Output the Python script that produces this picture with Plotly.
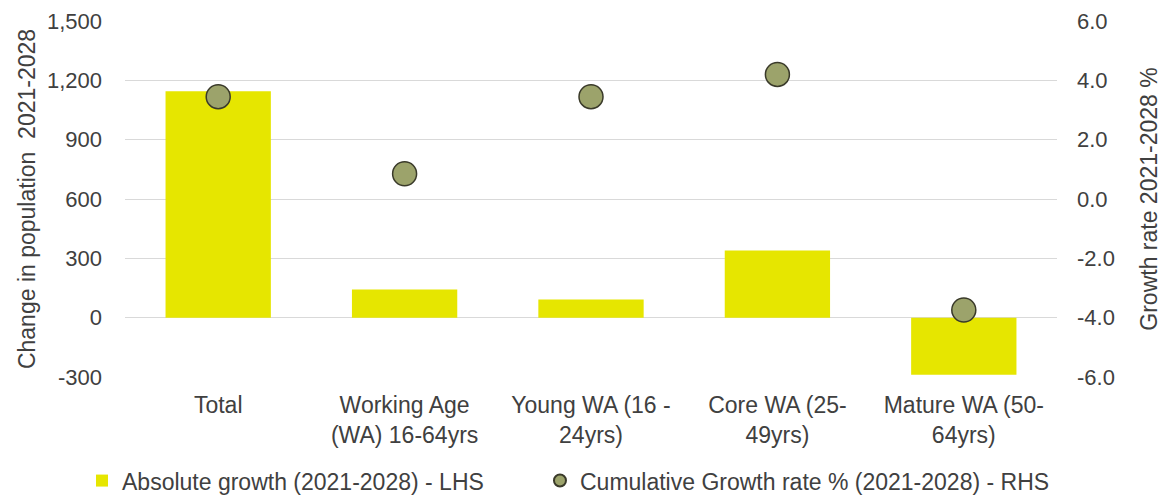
import plotly.graph_objects as go

# Population change by age group, 2021-2028
categories = [
    "Total",
    "Working Age<br>(WA) 16-64yrs",
    "Young WA (16 -<br>24yrs)",
    "Core WA (25-<br>49yrs)",
    "Mature WA (50-<br>64yrs)",
]
absolute_growth = [1145, 142, 92, 339, -288]      # left axis
growth_rate_pct = [3.45, 0.85, 3.45, 4.2, -3.74]  # right axis

left_ticks = [-300, 0, 300, 600, 900, 1200, 1500]
left_tick_text = ["-300", "0", "300", "600", "900", "1,200", "1,500"]
right_ticks = [-6, -4, -2, 0, 2, 4, 6]
right_tick_text = ["-6.0", "-4.0", "-2.0", "0.0", "2.0", "4.0", "6.0"]

FONT = "Liberation Sans, Arial, sans-serif"
TEXT = "#404040"
GRID = "#D9D9D9"

fig = go.Figure()

fig.add_trace(go.Bar(
    x=categories,
    y=absolute_growth,
    name="Absolute growth (2021-2028) - LHS",
    marker=dict(color="#E6E600", line=dict(width=0)),
    width=0.565,
    yaxis="y",
    legend="legend",
))

fig.add_trace(go.Scatter(
    x=categories,
    y=growth_rate_pct,
    name="Cumulative Growth rate % (2021-2028) - RHS",
    mode="markers",
    marker=dict(size=24, color="#9CA36B", line=dict(color="#3A3A2A", width=1.5)),
    yaxis="y2",
    legend="legend2",
))

legend_common = dict(
    orientation="h",
    xref="container", yref="container",
    xanchor="left",
    y=0.031, yanchor="middle",
    font=dict(size=23, color=TEXT),
    itemsizing="constant",
    bgcolor="rgba(0,0,0,0)",
)

fig.update_layout(
    width=1165,
    height=496,
    margin=dict(l=125, r=108, t=21, b=119, autoexpand=False),
    paper_bgcolor="white",
    plot_bgcolor="white",
    font=dict(family=FONT, size=23, color=TEXT),
    showlegend=True,
    legend=dict(x=0.0704, **legend_common),
    legend2=dict(x=0.4635, **legend_common),
    xaxis=dict(
        showgrid=False,
        showline=False,
        zeroline=False,
        ticks="",
        tickfont=dict(size=23, color=TEXT),
        ticklabelstandoff=12,
    ),
    yaxis=dict(
        range=[-300, 1500],
        tickvals=left_ticks,
        ticktext=left_tick_text,
        showgrid=True,
        gridcolor=GRID,
        gridwidth=1,
        zeroline=False,
        showline=False,
        ticks="",
        ticklabelstandoff=22,
        tickfont=dict(size=22, color=TEXT),
        title=dict(text="Change in population  2021-2028", font=dict(size=23, color=TEXT), standoff=4),
    ),
    yaxis2=dict(
        range=[-6, 6],
        tickvals=right_ticks,
        ticktext=right_tick_text,
        overlaying="y",
        side="right",
        showgrid=False,
        zeroline=False,
        showline=False,
        ticks="",
        ticklabelstandoff=19,
        tickfont=dict(size=22, color=TEXT),
        title=dict(text="Growth rate 2021-2028 %", font=dict(size=23, color=TEXT), standoff=26),
    ),
    bargap=0.435,
)

fig.write_html("out.html")
